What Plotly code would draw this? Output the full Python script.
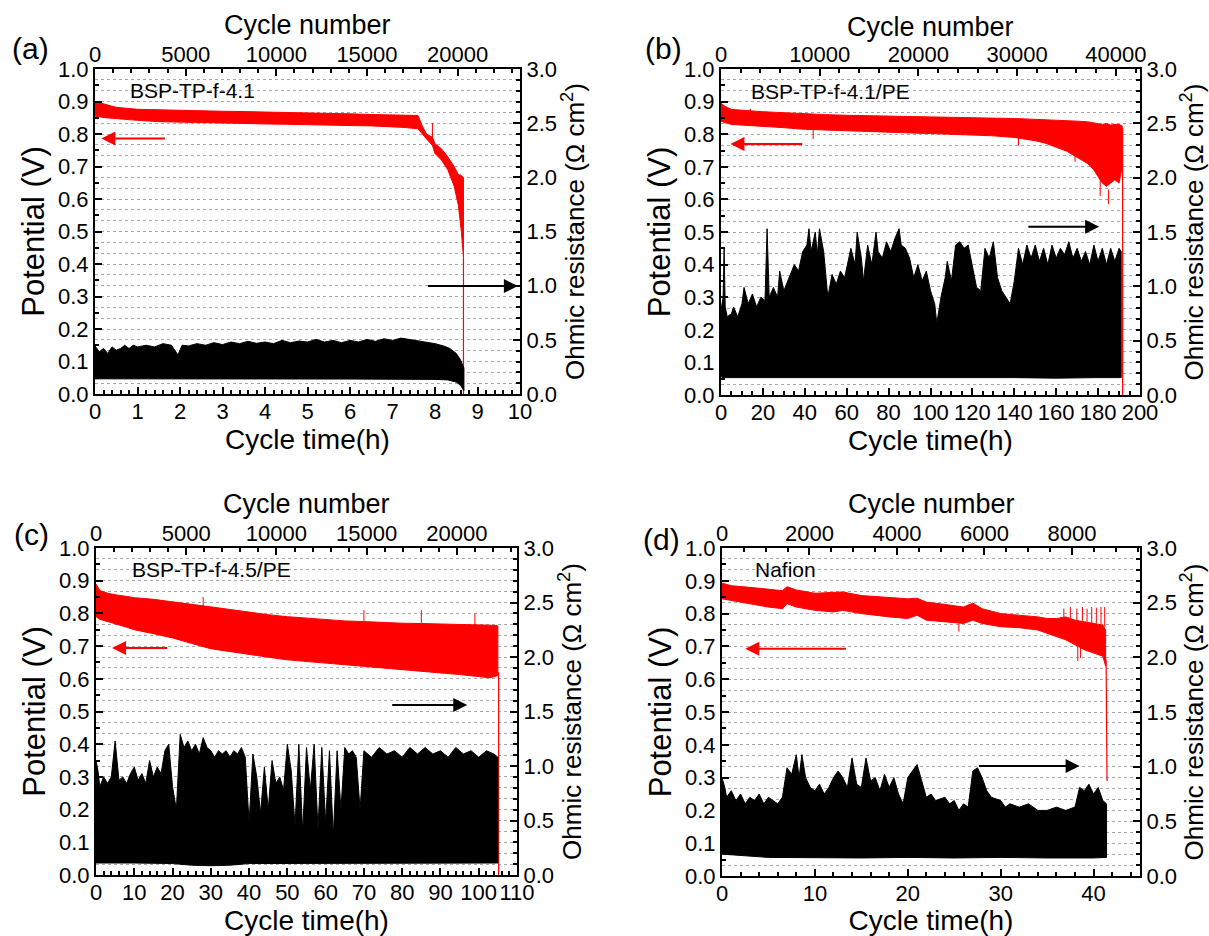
import plotly.graph_objects as go

W, H = 1209, 936
FONT = "Liberation Sans, Arial, Helvetica, sans-serif"
RED = "#ff0000"

# ---------------- Panel (a) BSP-TP-f-4.1 ----------------
t_pot_a = [0, 0.25, 0.5, 1.0, 1.5, 2.0, 2.5, 3.0, 3.5, 4.0, 4.5, 5.0, 5.5, 6.0, 6.5, 7.0, 7.3, 7.6, 7.7, 7.8,
           7.94, 8.0, 8.15, 8.3, 8.45, 8.55, 8.62, 8.67]
pot_hi_a = [0.90, 0.89, 0.882, 0.876, 0.874, 0.872, 0.871, 0.87, 0.869, 0.868, 0.867, 0.866, 0.864, 0.862, 0.86,
            0.858, 0.857, 0.857, 0.825, 0.80, 0.79, 0.77, 0.755, 0.73, 0.70, 0.675, 0.672, 0.665]
pot_lo_a = [0.855, 0.85, 0.846, 0.842, 0.838, 0.836, 0.835, 0.833, 0.832, 0.831, 0.83, 0.829, 0.828, 0.826, 0.825,
            0.822, 0.82, 0.816, 0.80, 0.785, 0.765, 0.74, 0.72, 0.69, 0.64, 0.58, 0.50, 0.42]
spk_t_a = [7.94, 8.6]
spk_from_a = [0.77, 0.6]
spk_to_a = [0.834, 0.675]
drop_t_a = [8.67, 8.67]
drop_v_a = [0.42, 0.0]
t_res_a = [0, 0.1, 0.2, 0.3, 0.4, 0.5, 0.6, 0.7, 0.8, 0.9, 1.0, 1.2, 1.4, 1.6, 1.8, 1.95, 2.05, 2.2, 2.4, 2.6,
           2.8, 3.0, 3.2, 3.4, 3.6, 3.8, 4.0, 4.2, 4.4, 4.6, 4.8, 5.0, 5.2, 5.4, 5.6, 5.8, 6.0, 6.2, 6.4, 6.6,
           6.8, 7.0, 7.2, 7.4, 7.6, 7.8, 8.0, 8.2, 8.35, 8.5, 8.6, 8.68]
res_hi_a = [0.444, 0.39, 0.42, 0.375, 0.435, 0.405, 0.42, 0.45, 0.42, 0.45, 0.435, 0.45, 0.435, 0.465, 0.45, 0.36,
            0.45, 0.444, 0.465, 0.45, 0.474, 0.456, 0.48, 0.465, 0.486, 0.468, 0.48, 0.465, 0.495, 0.474, 0.489,
            0.48, 0.504, 0.48, 0.495, 0.474, 0.495, 0.48, 0.504, 0.486, 0.51, 0.495, 0.516, 0.504, 0.495, 0.48,
            0.465, 0.444, 0.42, 0.375, 0.315, 0.24]
t_reslo_a = [0, 2, 4, 6, 8, 8.3, 8.5, 8.6, 8.68]
res_lo_a = [0.14, 0.14, 0.138, 0.138, 0.135, 0.13, 0.11, 0.08, 0.03]

# ---------------- Panel (b) BSP-TP-f-4.1/PE ----------------
t_pot_b = [0, 2, 5, 10, 15, 20, 30, 40, 50, 60, 70, 80, 90, 100, 110, 120, 130, 140, 145, 150, 155, 160, 165,
           170, 175, 178, 180, 182, 184, 186, 188, 190, 191.5]
pot_hi_b = [0.895, 0.885, 0.876, 0.873, 0.871, 0.869, 0.866, 0.862, 0.86, 0.858, 0.857, 0.856, 0.855, 0.853,
            0.852, 0.851, 0.85, 0.848, 0.847, 0.846, 0.845, 0.843, 0.842, 0.84, 0.838, 0.835, 0.832, 0.83, 0.833,
            0.828, 0.83, 0.83, 0.825]
pot_lo_b = [0.84, 0.835, 0.83, 0.828, 0.826, 0.824, 0.82, 0.815, 0.813, 0.81, 0.808, 0.806, 0.804, 0.802, 0.8,
            0.798, 0.795, 0.79, 0.785, 0.78, 0.772, 0.76, 0.748, 0.73, 0.71, 0.69, 0.67, 0.65, 0.64, 0.65, 0.66,
            0.65, 0.7]
spk_t_b = [14, 44, 142, 169, 181, 185]
spk_from_b = [0.87, 0.815, 0.79, 0.74, 0.67, 0.63]
spk_to_b = [0.878, 0.785, 0.765, 0.715, 0.61, 0.585]
drop_t_b = [191.7, 191.7]
drop_v_b = [0.82, 0.0]
t_res_b = [0, 1, 1.5, 2, 3, 5, 6, 8, 10, 11, 13, 15, 17, 19, 21, 22, 23, 25, 27, 28, 30, 32, 33, 35, 37, 39, 41,
           42, 43, 45, 46, 47, 49, 51, 53, 55, 57, 59, 61, 62, 64, 65, 67, 68, 70, 72, 74, 75, 77, 79, 81, 83, 85,
           86, 88, 90, 92, 94, 96, 98, 100, 102, 103, 105, 107, 108, 110, 112, 114, 116, 118, 120, 122, 124, 126,
           128, 130, 132, 134, 136, 138, 140, 142, 144, 146, 148, 150, 152, 154, 156, 158, 160, 162, 164, 166,
           168, 170, 172, 174, 176, 178, 180, 182, 184, 186, 188, 190, 191]
res_hi_b = [0.78, 0.9, 1.35, 0.81, 0.72, 0.75, 0.81, 0.72, 0.84, 0.99, 0.84, 0.93, 0.81, 0.9, 0.87, 1.53, 0.9,
            0.99, 0.9, 1.14, 0.96, 1.05, 1.11, 1.2, 1.14, 1.32, 1.38, 1.53, 1.32, 1.5, 1.29, 1.53, 1.32, 0.9, 1.11,
            1.02, 1.14, 1.08, 1.26, 1.35, 1.2, 1.5, 1.26, 1.05, 1.38, 1.2, 1.5, 1.32, 1.26, 1.41, 1.32, 1.44,
            1.53, 1.38, 1.35, 1.26, 1.08, 1.2, 1.05, 1.14, 0.96, 0.84, 0.66, 0.9, 1.08, 1.23, 1.05, 1.38, 1.41,
            1.35, 1.38, 1.2, 0.99, 0.96, 1.35, 1.26, 1.41, 1.08, 0.96, 0.9, 0.84, 1.05, 1.35, 1.2, 1.38, 1.26,
            1.38, 1.23, 1.35, 1.2, 1.38, 1.26, 1.35, 1.29, 1.41, 1.26, 1.35, 1.23, 1.32, 1.2, 1.38, 1.23, 1.35,
            1.2, 1.35, 1.23, 1.35, 1.32]
t_reslo_b = [0, 0.5, 20, 40, 60, 80, 100, 120, 140, 160, 180, 191]
res_lo_b = [0.17, 0.16, 0.16, 0.155, 0.16, 0.16, 0.155, 0.16, 0.16, 0.155, 0.16, 0.16]

# ---------------- Panel (c) BSP-TP-f-4.5/PE ----------------
t_pot_c = [0, 1, 3, 5, 8, 10, 15, 20, 25, 30, 35, 40, 45, 50, 55, 60, 65, 70, 75, 80, 85, 90, 95, 100, 103, 105]
pot_hi_c = [0.89, 0.87, 0.862, 0.857, 0.852, 0.848, 0.843, 0.836, 0.827, 0.82, 0.812, 0.803, 0.796, 0.79, 0.785,
            0.78, 0.777, 0.775, 0.772, 0.77, 0.769, 0.768, 0.766, 0.765, 0.764, 0.762]
pot_lo_c = [0.79, 0.782, 0.775, 0.768, 0.758, 0.75, 0.738, 0.725, 0.708, 0.692, 0.684, 0.675, 0.666, 0.658, 0.652,
            0.647, 0.642, 0.638, 0.633, 0.628, 0.624, 0.618, 0.613, 0.607, 0.603, 0.61]
spk_t_c = [28, 70, 85, 99]
spk_from_c = [0.82, 0.775, 0.769, 0.765]
spk_to_c = [0.85, 0.81, 0.81, 0.80]
drop_t_c = [105.2, 105.2]
drop_v_c = [0.62, 0.0]
t_res_c = [0, 0.5, 1, 2, 3, 4, 5, 6, 7, 8, 9, 10, 11, 12, 13, 14, 15, 16, 17, 18, 19, 20, 21, 22, 23, 24, 25, 26,
           27, 28, 29, 30, 31, 32, 33, 34, 35, 36, 37, 38, 39, 40, 41, 42, 43, 44, 45, 46, 47, 48, 49, 50, 51, 52,
           53, 54, 55, 56, 57, 58, 59, 60, 61, 62, 63, 64, 65, 66, 67, 68, 69, 70, 72, 74, 76, 78, 80, 82, 84, 86,
           88, 90, 92, 94, 96, 98, 100, 102, 104, 105]
res_hi_c = [1.05, 0.96, 0.81, 0.9, 0.84, 0.9, 1.23, 0.87, 0.9, 0.84, 0.93, 0.99, 0.87, 0.93, 0.84, 1.05, 0.9, 0.99,
            0.93, 1.14, 1.2, 0.81, 0.6, 1.29, 1.17, 1.23, 1.14, 1.2, 1.11, 1.26, 1.17, 1.14, 1.08, 1.14, 1.11, 1.14,
            1.08, 1.14, 1.11, 1.17, 1.08, 0.48, 1.11, 0.9, 0.57, 0.99, 0.6, 1.05, 0.84, 0.9, 0.78, 1.2, 0.96, 0.45,
            1.2, 0.39, 1.17, 0.78, 1.2, 0.42, 1.17, 0.48, 1.14, 0.36, 1.14, 0.6, 1.17, 1.11, 1.14, 1.08, 0.6, 1.14,
            1.08, 1.17, 1.11, 1.14, 1.08, 1.17, 1.11, 1.17, 1.11, 1.14, 1.08, 1.17, 1.11, 1.14, 1.08, 1.14, 1.11,
            1.08]
t_reslo_c = [0, 10, 20, 25, 30, 35, 40, 50, 60, 70, 80, 90, 100, 105]
res_lo_c = [0.11, 0.11, 0.105, 0.09, 0.085, 0.09, 0.105, 0.11, 0.11, 0.11, 0.11, 0.11, 0.11, 0.11]

# ---------------- Panel (d) Nafion ----------------
t_pot_d = [0, 1, 3, 5, 6.5, 7, 8, 10, 12, 13, 15, 18, 20, 21, 22, 24, 26, 27, 28, 30, 32, 34, 35, 36, 37, 38,
           39, 40, 41, 41.3]
pot_hi_d = [0.893, 0.885, 0.88, 0.875, 0.87, 0.882, 0.872, 0.862, 0.865, 0.866, 0.855, 0.848, 0.845, 0.847, 0.835,
            0.828, 0.82, 0.832, 0.815, 0.8, 0.795, 0.79, 0.785, 0.785, 0.79, 0.78, 0.775, 0.77, 0.765, 0.75]
pot_lo_d = [0.845, 0.84, 0.83, 0.82, 0.815, 0.83, 0.82, 0.81, 0.805, 0.81, 0.8, 0.79, 0.785, 0.795, 0.78, 0.775,
            0.77, 0.78, 0.77, 0.76, 0.757, 0.75, 0.74, 0.73, 0.72, 0.705, 0.69, 0.68, 0.67, 0.64]
spk_t_d = [25.5, 36.8, 37.5, 38.2, 38.3, 38.6, 38.8, 39.3, 39.8, 40.3, 40.8, 41.2]
spk_from_d = [0.77, 0.79, 0.785, 0.78, 0.70, 0.70, 0.778, 0.775, 0.77, 0.77, 0.768, 0.76]
spk_to_d = [0.745, 0.815, 0.82, 0.815, 0.655, 0.665, 0.82, 0.815, 0.82, 0.818, 0.82, 0.82]
drop_t_d = [41.35, 41.45]
drop_v_d = [0.66, 0.29]
t_res_d = [0, 0.3, 0.5, 1, 1.5, 2, 2.5, 3, 3.5, 4, 4.5, 5, 5.5, 6, 6.5, 7, 7.5, 8, 8.3, 8.6, 9, 9.5, 10, 10.5, 11,
           11.5, 12, 12.5, 13, 13.5, 14, 14.5, 15, 15.5, 16, 16.5, 17, 17.5, 18, 18.5, 19, 19.5, 20, 20.5, 21,
           21.5, 22, 22.5, 23, 24, 24.5, 25, 25.5, 26, 26.5, 27, 27.5, 28, 28.5, 29, 30, 30.5, 31, 32, 33, 34, 35,
           36, 37, 38, 38.5, 39, 39.5, 40, 40.5, 41, 41.4]
res_hi_d = [0.9, 0.81, 0.72, 0.78, 0.69, 0.75, 0.66, 0.72, 0.69, 0.75, 0.66, 0.72, 0.69, 0.66, 0.72, 0.99, 0.93,
            1.11, 0.9, 1.11, 0.9, 0.81, 0.78, 0.84, 0.75, 0.81, 0.9, 0.96, 0.9, 0.81, 1.08, 0.84, 0.81, 1.08, 0.87,
            0.9, 0.78, 0.93, 0.81, 0.9, 0.75, 0.66, 0.9, 0.96, 1.02, 0.87, 0.72, 0.75, 0.69, 0.72, 0.66, 0.69, 0.6,
            0.66, 0.63, 0.96, 0.99, 0.9, 0.78, 0.72, 0.69, 0.63, 0.66, 0.63, 0.66, 0.6, 0.6, 0.63, 0.6, 0.63, 0.81,
            0.78, 0.84, 0.75, 0.81, 0.69, 0.66]
t_reslo_d = [0, 5, 10, 15, 20, 25, 30, 35, 40, 41.4]
res_lo_d = [0.2, 0.17, 0.17, 0.165, 0.17, 0.165, 0.17, 0.165, 0.165, 0.17]

# ---------------- axes / labels ----------------
panel_labels = ["(a)", "(b)", "(c)", "(d)"]
sample_names = ["BSP-TP-f-4.1", "BSP-TP-f-4.1/PE", "BSP-TP-f-4.5/PE", "Nafion"]
time_ranges = [[0, 10], [0, 200], [0, 110], [0, 45]]
time_dticks = [1, 20, 10, 10]
time_minor = [0.2, 5, 2, 2]
cycle_ranges = [[0, 23440], [0, 42440], [0, 23330], [0, 9555]]
cycle_dticks = [5000, 10000, 5000, 2000]
cycle_minor = [1000, 2000, 1000, 500]
# red arrow (head, tail, level) and black arrow (head, tail, level) in (time, potential) units
red_arrows = [[0.15, 1.68, 0.786], [4.5, 39.5, 0.77], [4.2, 19.0, 0.694], [2.5, 13.5, 0.693]]
black_arrows = [[9.95, 7.8, 0.332], [180.5, 146, 0.516], [97, 77, 0.52], [38.5, 27.5, 0.335]]
name_pos = [[0.78, 0.933], [13.5, 0.93], [8.8, 0.934], [3.35, 0.934]]

# panel boxes in pixels (left, right, top, bottom)
boxes = [(95, 520, 69, 394), (721, 1140, 69, 395), (96, 517, 548, 875), (722, 1140, 548, 876)]
label_px = [(30, 48), (663, 48), (31, 534), (662, 539)]
top_title_y = [25, 27, 504, 504]

data = [
    (t_pot_a, pot_hi_a, pot_lo_a, spk_t_a, spk_from_a, spk_to_a, drop_t_a, drop_v_a, t_res_a, res_hi_a, t_reslo_a, res_lo_a),
    (t_pot_b, pot_hi_b, pot_lo_b, spk_t_b, spk_from_b, spk_to_b, drop_t_b, drop_v_b, t_res_b, res_hi_b, t_reslo_b, res_lo_b),
    (t_pot_c, pot_hi_c, pot_lo_c, spk_t_c, spk_from_c, spk_to_c, drop_t_c, drop_v_c, t_res_c, res_hi_c, t_reslo_c, res_lo_c),
    (t_pot_d, pot_hi_d, pot_lo_d, spk_t_d, spk_from_d, spk_to_d, drop_t_d, drop_v_d, t_res_d, res_hi_d, t_reslo_d, res_lo_d),
]

fig = go.Figure()
tickfont = dict(family=FONT, size=22, color="black")
annotations = []
layout = dict(width=W, height=H, margin=dict(l=0, r=0, t=0, b=0), paper_bgcolor="white",
              plot_bgcolor="rgba(0,0,0,0)", showlegend=False)


def band(t_hi, hi, t_lo, lo):
    return list(t_hi) + list(reversed(t_lo)), list(hi) + list(reversed(lo))


def segments(t, a, b):
    xs, ys = [], []
    for ti, ai, bi in zip(t, a, b):
        xs += [ti, ti, None]
        ys += [ai, bi, None]
    return xs, ys


for i, (tp, ph, pl, st, sf, sto, dt, dv, tr, rh, trl, rl) in enumerate(data):
    n = 4 * i
    xb = "x" if n == 0 else f"x{n+1}"
    xt = f"x{n+2}"
    yl = "y" if n == 0 else f"y{n+1}"
    yr = f"y{n+2}"
    L, R, T, B = boxes[i]
    dx = [L / W, R / W]
    dy = [(H - B) / H, (H - T) / H]
    kxb = "xaxis" if n == 0 else f"xaxis{n+1}"
    kxt = f"xaxis{n+2}"
    kyl = "yaxis" if n == 0 else f"yaxis{n+1}"
    kyr = f"yaxis{n+2}"
    common = dict(showline=True, linecolor="black", linewidth=2, ticks="inside", ticklen=7, tickwidth=1.5,
                  tickcolor="black", tickfont=tickfont, zeroline=False, showgrid=False, automargin=False,
                  fixedrange=True)
    layout[kxb] = dict(common, domain=dx, anchor=yl, range=time_ranges[i], dtick=time_dticks[i], tick0=0,
                       ticklabelstandoff=-3,
                       minor=dict(dtick=time_minor[i], ticks="inside", ticklen=4, tickcolor="black"),
                       title=dict(text="Cycle time(h)", font=dict(family=FONT, size=28, color="black"), standoff=4))
    layout[kxt] = dict(common, overlaying=xb, side="top", anchor=yl, range=cycle_ranges[i], dtick=cycle_dticks[i],
                       tick0=0, tickformat="d", ticklabelstandoff=-4,
                       minor=dict(dtick=cycle_minor[i], ticks="inside", ticklen=4, tickcolor="black"))
    layout[kyl] = dict(common, domain=dy, anchor=xb, range=[0, 1], dtick=0.1, tick0=0, tickformat=".1f",
                       minor=dict(dtick=0.05, ticks="inside", ticklen=4, tickcolor="black"),
                       title=dict(text="Potential (V)", font=dict(family=FONT, size=31, color="black"), standoff=4))
    layout[kyr] = dict(common, overlaying=yl, side="right", anchor=xb, range=[0, 3], dtick=0.5, tick0=0,
                       tickformat=".1f", showgrid=True, gridcolor="#a8a8a8", gridwidth=1, griddash="dot",
                       minor=dict(dtick=0.1, ticks="inside", ticklen=4, tickcolor="black", showgrid=True,
                                  gridcolor="#a8a8a8", gridwidth=1, griddash="dot"),
                       title=dict(text="Ohmic resistance (Ω cm<sup>2</sup>)",
                                  font=dict(family=FONT, size=26, color="black"), standoff=6))

    # empty trace so the top (cycle number) axis is drawn
    fig.add_trace(go.Scatter(x=[], y=[], xaxis=xt, yaxis=yl, mode="lines", hoverinfo="skip"))

    # potential band
    bx, by = band(tp, ph, tp, pl)
    fig.add_trace(go.Scatter(x=bx, y=by, xaxis=xb, yaxis=yl, mode="lines", fill="toself", fillcolor=RED,
                             line=dict(color=RED, width=1), hoverinfo="skip"))
    sx, sy = segments(st, sf, sto)
    fig.add_trace(go.Scatter(x=sx, y=sy, xaxis=xb, yaxis=yl, mode="lines", line=dict(color=RED, width=1),
                             hoverinfo="skip"))
    fig.add_trace(go.Scatter(x=dt, y=dv, xaxis=xb, yaxis=yl, mode="lines", line=dict(color=RED, width=1.2),
                             hoverinfo="skip"))
    # resistance band
    rx, ry = band(tr, rh, trl, rl)
    fig.add_trace(go.Scatter(x=rx, y=ry, xaxis=xb, yaxis=yr, mode="lines", fill="toself", fillcolor="black",
                             line=dict(color="black", width=1), hoverinfo="skip"))

    # arrows
    h, tl, v = red_arrows[i]
    annotations.append(dict(x=h, y=v, ax=tl, ay=v, xref=xb, yref=yl, axref=xb, ayref=yl, text="",
                            showarrow=True, arrowhead=2, arrowsize=1.4, arrowwidth=2, arrowcolor=RED))
    h, tl, v = black_arrows[i]
    annotations.append(dict(x=h, y=v, ax=tl, ay=v, xref=xb, yref=yl, axref=xb, ayref=yl, text="",
                            showarrow=True, arrowhead=2, arrowsize=1.4, arrowwidth=2, arrowcolor="black"))
    # sample name
    annotations.append(dict(x=name_pos[i][0], y=name_pos[i][1], xref=xb, yref=yl, text=sample_names[i],
                            showarrow=False, xanchor="left", yanchor="middle",
                            font=dict(family=FONT, size=21, color="black")))
    # top axis title (cycle number)
    annotations.append(dict(x=(L + R) / 2 / W, y=(H - top_title_y[i]) / H, xref="paper", yref="paper",
                            text="Cycle number", showarrow=False, xanchor="center", yanchor="middle",
                            font=dict(family=FONT, size=27, color="black")))
    # panel label
    px, py = label_px[i]
    annotations.append(dict(x=px / W, y=(H - py) / H, xref="paper", yref="paper", text=panel_labels[i],
                            showarrow=False, xanchor="center", yanchor="middle",
                            font=dict(family=FONT, size=30, color="black")))

layout["annotations"] = annotations
fig.update_layout(**layout)
fig.write_html("out.html")
